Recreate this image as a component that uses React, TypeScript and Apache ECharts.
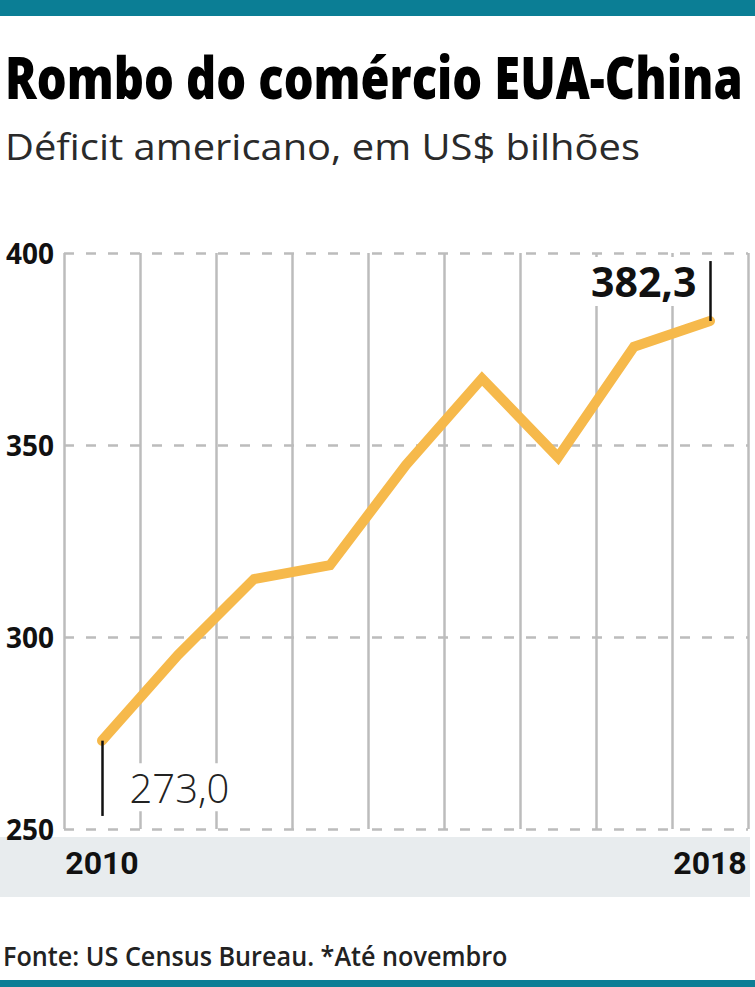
import React, { useEffect, useRef } from 'react';
import * as echarts from 'echarts';

const years = ['2010', '2011', '2012', '2013', '2014', '2015', '2016', '2017', '2018'];
const deficit = [273.0, 295.3, 315.1, 318.7, 344.8, 367.3, 346.8, 375.6, 382.3];
const labeledYears = ['2010', '2018'];
const yMin = 250;
const yMax = 400;
const yStep = 50;

const TITLE = 'Rombo do comércio EUA-China';
const SUBTITLE = 'Déficit americano, em US$ bilhões';
const SOURCE = 'Fonte: US Census Bureau. *Até novembro';

const TEAL = '#0b7e95';
const GRID = '#bcbcbc';

function measure(text: string, font: string): number {
  const ctx = document.createElement('canvas').getContext('2d');
  if (!ctx) return 0;
  ctx.font = font;
  return ctx.measureText(text).width;
}

function fitScale(text: string, weight: string | number, size: number, family: string, target: number): number {
  const w = measure(text, `${weight} ${size}px ${family}`);
  return w > 0 ? target / w : 1;
}

const fmt = (v: number) => v.toFixed(1).replace('.', ',');

const TITLE_SIZE = 58;
const SUB_SIZE = 36;
const SRC_SIZE = 27;

export default function App() {
  const ref = useRef<HTMLDivElement>(null);

  useEffect(() => {
    if (!ref.current) return;
    const chart = echarts.init(ref.current, undefined, { renderer: 'svg' });

    const fam = '"Open Sans"';
    const titleScale = fitScale(TITLE, 800, TITLE_SIZE, fam, 738);
    const subScale = fitScale(SUBTITLE, 'normal', SUB_SIZE, fam, 635);
    const srcScale = fitScale(SOURCE, 600, SRC_SIZE, fam, 505);

    const last = years.length - 1;

    chart.setOption({
      animation: false,
      backgroundColor: '#ffffff',
      grid: { left: 64, right: 7, top: 253, bottom: 158, containLabel: false },
      xAxis: {
        type: 'category',
        data: years,
        boundaryGap: true,
        axisLine: { show: false },
        axisTick: { show: false },
        axisLabel: {
          interval: (_i: number, v: string) => labeledYears.includes(v),
          fontFamily: 'Roboto',
          fontWeight: 'bold',
          fontSize: 32,
          color: '#111',
          margin: 18,
        },
        splitLine: { show: true, interval: 0, lineStyle: { color: GRID, width: 2.5, type: 'solid' } },
      },
      yAxis: {
        type: 'value',
        min: yMin,
        max: yMax,
        interval: yStep,
        axisLine: { show: false },
        axisTick: { show: false },
        axisLabel: {
          fontFamily: '"Open Sans"',
          fontWeight: 'bold',
          fontSize: 28,
          color: '#111',
          margin: 10,
        },
        splitLine: { show: true, lineStyle: { color: GRID, width: 2.5, type: [10, 12] } },
      },
      series: [
        {
          type: 'line',
          data: deficit,
          symbol: 'none',
          lineStyle: { color: '#f6b94b', width: 10, cap: 'round', join: 'miter' },
          markLine: {
            silent: true,
            symbol: ['none', 'none'],
            label: { show: false },
            lineStyle: { color: '#111', width: 2.5, type: 'solid' },
            data: [
              [{ coord: [years[0], deficit[0]] }, { coord: [years[0], 253.4] }],
              [{ coord: [years[last], 397.9] }, { coord: [years[last], deficit[last]] }],
            ],
          },
          markPoint: {
            silent: true,
            symbol: 'circle',
            symbolSize: 1,
            itemStyle: { color: 'rgba(0,0,0,0)' },
            data: [
              {
                coord: [years[0], 260.9],
                value: deficit[0],
                label: {
                  show: true,
                  position: 'right',
                  distance: 21,
                  formatter: () => fmt(deficit[0]),
                  fontFamily: '"Open Sans"',
                  fontWeight: 300,
                  fontSize: 40,
                  color: '#222',
                  backgroundColor: '#ffffff',
                  padding: [4, 6],
                },
              },
              {
                coord: [years[last], 392.6],
                value: deficit[last],
                label: {
                  show: true,
                  position: 'left',
                  distance: 7,
                  formatter: () => fmt(deficit[last]),
                  fontFamily: '"Open Sans"',
                  fontWeight: 'bold',
                  fontSize: 41,
                  color: '#111',
                  backgroundColor: '#ffffff',
                  padding: [4, 6],
                },
              },
            ],
          },
        },
      ],
      graphic: {
        elements: [
          { type: 'rect', z: -1, shape: { x: 0, y: 0, width: 755, height: 16 }, style: { fill: TEAL } },
          { type: 'rect', z: -1, shape: { x: 0, y: 980, width: 755, height: 7 }, style: { fill: TEAL } },
          { type: 'rect', z: -1, shape: { x: 0, y: 837, width: 750, height: 60 }, style: { fill: '#e8ecee' } },
          {
            type: 'text',
            x: 5,
            y: 76,
            scaleX: titleScale,
            style: {
              text: TITLE,
              fontFamily: fam,
              fontWeight: 800,
              fontSize: TITLE_SIZE,
              fill: '#000',
              verticalAlign: 'middle',
            },
          },
          {
            type: 'text',
            x: 5,
            y: 146,
            scaleX: subScale,
            style: {
              text: SUBTITLE,
              fontFamily: fam,
              fontWeight: 'normal',
              fontSize: SUB_SIZE,
              fill: '#2a2a2a',
              verticalAlign: 'middle',
            },
          },
          {
            type: 'text',
            x: 3,
            y: 956,
            scaleX: srcScale,
            style: {
              text: SOURCE,
              fontFamily: fam,
              fontWeight: 600,
              fontSize: SRC_SIZE,
              fill: '#222',
              verticalAlign: 'middle',
            },
          },
        ],
      },
    });

    return () => chart.dispose();
  }, []);

  return (
    <div
      ref={ref}
      style={{ position: 'absolute', left: 0, top: 0, width: 755, height: 987 }}
    />
  );
}
